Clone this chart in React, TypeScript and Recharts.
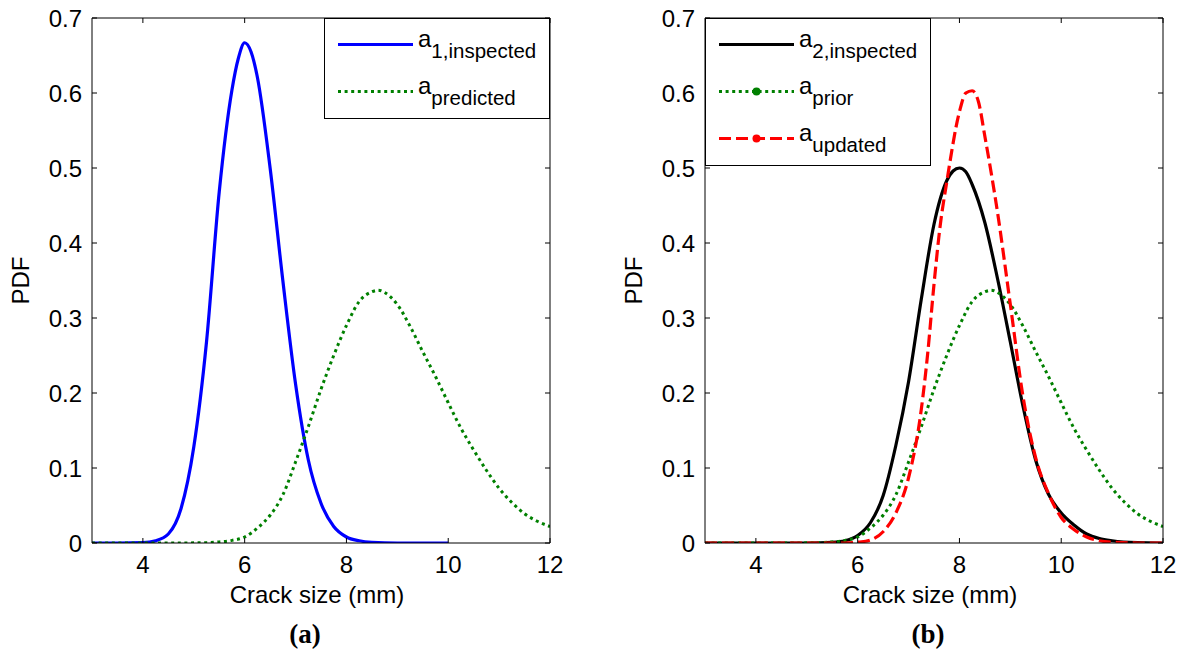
import React from 'react';
import { LineChart, Line, XAxis, YAxis, Label } from 'recharts';

// ---------- data ----------
const xTicks = [4, 6, 8, 10, 12];
const yTicks = [0, 0.1, 0.2, 0.3, 0.4, 0.5, 0.6, 0.7];
const xDomain: [number, number] = [3, 12];
const yDomain: [number, number] = [0, 0.7];

// panel (a): a_1,inspected
const a1InspX = [3, 3.5, 4, 4.25, 4.5, 4.75, 5, 5.25, 5.5, 5.75, 5.875, 6, 6.125, 6.25, 6.5, 6.75, 7, 7.25, 7.5, 7.75, 8, 8.25, 8.5, 9, 9.5, 10];
const a1InspY = [0, 0, 0.0005, 0.003, 0.012, 0.046, 0.128, 0.268, 0.468, 0.604, 0.646, 0.667, 0.655, 0.621, 0.5, 0.35, 0.212, 0.111, 0.053, 0.022, 0.008, 0.003, 0.001, 0, 0, 0];

// panel (a) a_predicted and panel (b) a_prior (same curve)
const predX = [3, 3.5, 4, 4.5, 5, 5.25, 5.5, 5.75, 6, 6.25, 6.5, 6.75, 7, 7.25, 7.5, 7.75, 8, 8.25, 8.5, 8.625, 8.75, 9, 9.25, 9.5, 9.75, 10, 10.25, 10.5, 10.75, 11, 11.25, 11.5, 11.75, 12];
const predY = [0, 0, 0, 0, 0.0002, 0.0005, 0.0015, 0.0035, 0.008, 0.02, 0.037, 0.064, 0.108, 0.155, 0.205, 0.25, 0.29, 0.322, 0.335, 0.337, 0.334, 0.318, 0.289, 0.255, 0.222, 0.187, 0.153, 0.124, 0.097, 0.073, 0.054, 0.039, 0.029, 0.022];

// panel (b): a_2,inspected
const a2InspX = [3, 4, 5, 5.5, 5.75, 6, 6.25, 6.5, 6.75, 7, 7.25, 7.5, 7.75, 7.875, 8, 8.125, 8.25, 8.5, 8.75, 9, 9.25, 9.5, 9.75, 10, 10.25, 10.5, 10.75, 11, 11.5, 12];
const a2InspY = [0, 0, 0, 0.001, 0.003, 0.01, 0.027, 0.063, 0.13, 0.215, 0.325, 0.425, 0.483, 0.496, 0.5, 0.495, 0.478, 0.427, 0.352, 0.268, 0.182, 0.11, 0.065, 0.04, 0.024, 0.012, 0.006, 0.003, 0.0005, 0];

// panel (b): a_updated
const updX = [3, 4, 5, 5.75, 6, 6.25, 6.5, 6.75, 7, 7.25, 7.375, 7.5, 7.625, 7.75, 8, 8.125, 8.25, 8.375, 8.5, 8.75, 9, 9.25, 9.5, 9.75, 10, 10.25, 10.5, 10.75, 11, 11.5, 12];
const updY = [0, 0, 0, 0, 0.001, 0.004, 0.015, 0.04, 0.087, 0.178, 0.252, 0.345, 0.425, 0.481, 0.575, 0.6, 0.603, 0.588, 0.542, 0.44, 0.318, 0.195, 0.113, 0.066, 0.034, 0.018, 0.008, 0.003, 0.001, 0, 0];

const zip = (xs: number[], ys: number[]) => xs.map((x, i) => ({ x, y: ys[i] }));

// ---------- styling ----------
const FONT = '"Liberation Sans", Arial, Helvetica, sans-serif';
const FS = 24;
const TICK_LEN = 5;
const GREEN = '#008000';
const DOT = '3 3.6';
const DASH = '12 5';

const LeftTick = (p: any) => (
  <g>
    <line x1={p.x + 10} x2={p.x + 10 + TICK_LEN} y1={p.y} y2={p.y} stroke="#000" strokeWidth={1} />
    <text x={p.x} y={p.y + 8.6} textAnchor="end" fontFamily={FONT} fontSize={FS} fill="#000">
      {String(p.payload.value)}
    </text>
  </g>
);
const BottomTick = (p: any) => (
  <g>
    <line x1={p.x} x2={p.x} y1={p.y} y2={p.y - TICK_LEN} stroke="#000" strokeWidth={1} />
    <text x={p.x} y={p.y + 30} textAnchor="middle" fontFamily={FONT} fontSize={FS} fill="#000">
      {String(p.payload.value)}
    </text>
  </g>
);
const TopTick = (p: any) => (
  <line x1={p.x} x2={p.x} y1={p.y} y2={p.y + TICK_LEN} stroke="#000" strokeWidth={1} />
);
const RightTick = (p: any) => (
  <line x1={p.x} x2={p.x - TICK_LEN} y1={p.y} y2={p.y} stroke="#000" strokeWidth={1} />
);

type LegendItem = { sub: string; color: string; dash?: string; marker?: boolean };

const LegendBox = ({ left, top, items }: { left: number; top: number; items: LegendItem[] }) => {
  const rowH = 47;
  const h = items.length * rowH + 7;
  return (
    <svg style={{ position: 'absolute', left, top }} width={226} height={h}>
      <rect x={0.5} y={0.5} width={225} height={h - 1} fill="#fff" stroke="#000" strokeWidth={1} />
      {items.map((it, i) => {
        const cy = 26.5 + i * rowH;
        return (
          <g key={i}>
            <line x1={14} x2={89} y1={cy} y2={cy} stroke={it.color} strokeWidth={3} strokeDasharray={it.dash} />
            {it.marker && <circle cx={51.5} cy={cy} r={4} fill={it.color} />}
            <text x={94} y={cy + 2.5} fontFamily={FONT} fontSize={FS} fill="#000">
              a<tspan fontSize={20.5} dy={11}>{it.sub}</tspan>
            </text>
          </g>
        );
      })}
    </svg>
  );
};

const Panel = ({ children }: { children: React.ReactNode }) => (
  <LineChart width={590} height={651} margin={{ top: 17, right: 39, bottom: 0, left: 0 }}>
    <XAxis
      dataKey="x"
      type="number"
      domain={xDomain}
      ticks={xTicks}
      allowDataOverflow
      height={108}
      tickSize={0}
      tickMargin={0}
      tickLine={false}
      axisLine={{ stroke: '#000', strokeWidth: 1 }}
      tick={<BottomTick />}
      interval={0}
    >
      <Label
        value="Crack size (mm)"
        position="insideBottom"
        offset={48}
        dx={-4}
        style={{ fontFamily: FONT, fontSize: FS, fill: '#000' }}
      />
    </XAxis>
    <XAxis
      xAxisId="top"
      orientation="top"
      dataKey="x"
      type="number"
      domain={xDomain}
      ticks={xTicks}
      allowDataOverflow
      height={1}
      tickSize={0}
      tickMargin={0}
      tickLine={false}
      axisLine={{ stroke: '#000', strokeWidth: 1 }}
      tick={<TopTick />}
      interval={0}
    />
    <YAxis
      type="number"
      domain={yDomain}
      ticks={yTicks}
      allowDataOverflow
      width={92}
      tickSize={0}
      tickMargin={10}
      tickLine={false}
      axisLine={{ stroke: '#000', strokeWidth: 1 }}
      tick={<LeftTick />}
      interval={0}
    >
      <Label
        value="PDF"
        angle={-90}
        position="insideLeft"
        offset={20}
        style={{ textAnchor: 'middle', fontFamily: FONT, fontSize: FS, fill: '#000' }}
      />
    </YAxis>
    <YAxis
      yAxisId="right"
      orientation="right"
      type="number"
      domain={yDomain}
      ticks={yTicks}
      allowDataOverflow
      width={1}
      tickSize={0}
      tickMargin={0}
      tickLine={false}
      axisLine={{ stroke: '#000', strokeWidth: 1 }}
      tick={<RightTick />}
      interval={0}
    />
    {children}
  </LineChart>
);

export default function App() {
  return (
    <div style={{ position: 'absolute', left: 0, top: 0, width: 1179, height: 651, background: '#fff', overflow: 'hidden' }}>
      <div style={{ position: 'absolute', left: 0, top: 0 }}>
        <Panel>
          <Line data={zip(a1InspX, a1InspY)} dataKey="y" name="a1,inspected" type="monotone" stroke="#0000FF" strokeWidth={3.2} dot={false} isAnimationActive={false} />
          <Line data={zip(predX, predY)} dataKey="y" name="apredicted" type="monotone" stroke={GREEN} strokeWidth={3} strokeDasharray={DOT} dot={false} isAnimationActive={false} />
        </Panel>
      </div>
      <div style={{ position: 'absolute', left: 613, top: 0 }}>
        <Panel>
          <Line data={zip(a2InspX, a2InspY)} dataKey="y" name="a2,inspected" type="monotone" stroke="#000" strokeWidth={3.2} dot={false} isAnimationActive={false} />
          <Line data={zip(predX, predY)} dataKey="y" name="aprior" type="monotone" stroke={GREEN} strokeWidth={3} strokeDasharray={DOT} dot={false} isAnimationActive={false} />
          <Line data={zip(updX, updY)} dataKey="y" name="aupdated" type="monotone" stroke="#FF0000" strokeWidth={3.2} strokeDasharray={DASH} dot={false} isAnimationActive={false} />
        </Panel>
      </div>
      <LegendBox
        left={324}
        top={18}
        items={[
          { sub: '1,inspected', color: '#0000FF' },
          { sub: 'predicted', color: GREEN, dash: DOT },
        ]}
      />
      <LegendBox
        left={705}
        top={18}
        items={[
          { sub: '2,inspected', color: '#000' },
          { sub: 'prior', color: GREEN, dash: DOT, marker: true },
          { sub: 'updated', color: '#FF0000', dash: DASH, marker: true },
        ]}
      />
      <svg style={{ position: 'absolute', left: 0, top: 0, pointerEvents: 'none' }} width={1179} height={651}>
        <text x={305} y={643} textAnchor="middle" fontFamily='"Liberation Serif", "Times New Roman", serif' fontWeight="bold" fontSize={27} fill="#000">(a)</text>
        <text x={928} y={643} textAnchor="middle" fontFamily='"Liberation Serif", "Times New Roman", serif' fontWeight="bold" fontSize={27} fill="#000">(b)</text>
      </svg>
    </div>
  );
}
